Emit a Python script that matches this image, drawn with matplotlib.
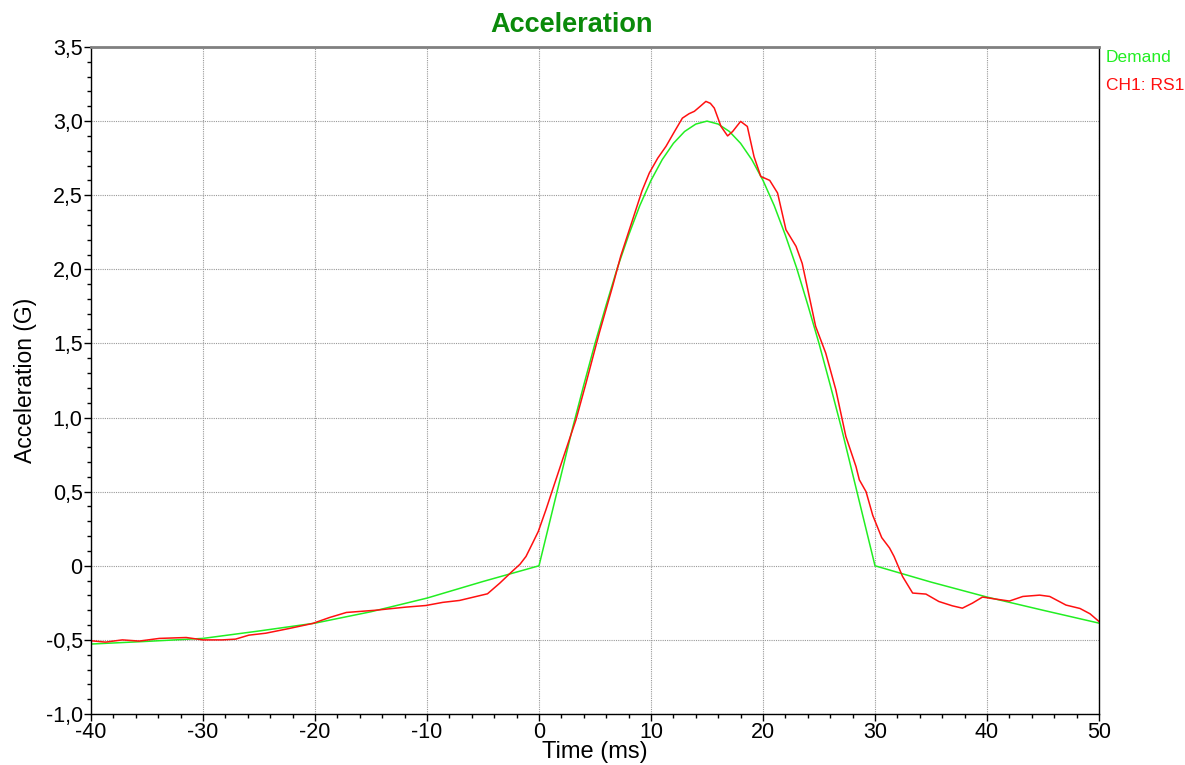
import numpy as np
import matplotlib
matplotlib.use("Agg")
from matplotlib import pyplot as plt
from matplotlib.ticker import MultipleLocator, FuncFormatter

plt.rcParams['font.family'] = ['Liberation Sans', 'DejaVu Sans']

# demand profile (half sine pulse with pre/post compensation)
demand_t = [-40, -35, -30, -25, -20, -15, -10, -5,
            0, 1, 2, 3, 4, 5, 6, 7, 8, 9, 10, 11, 12, 13, 14, 15,
            16, 17, 18, 19, 20, 21, 22, 23, 24, 25, 26, 27, 28, 29, 30,
            35, 40, 45, 50]
demand_g = [-0.528, -0.51, -0.49, -0.44, -0.387, -0.31, -0.218, -0.106,
            0.0, 0.31, 0.62, 0.93, 1.22, 1.50, 1.76, 2.01, 2.23, 2.43, 2.60, 2.74, 2.85, 2.93, 2.98, 3.00,
            2.98, 2.93, 2.85, 2.74, 2.60, 2.43, 2.23, 2.01, 1.76, 1.50, 1.22, 0.93, 0.62, 0.31, 0.0,
            -0.11, -0.211, -0.30, -0.387]

# measured channel
ch1_t = [-40.0, -38.7, -37.2, -35.7, -33.9, -31.5, -30.0, -28.3, -27.1, -25.9,
         -24.4, -22.3, -20.2, -18.7, -17.2, -14.6, -11.9, -10.1, -8.6, -7.1,
         -5.6, -4.6, -3.5, -2.4, -1.7, -1.16, -0.57, -0.06, 0.62, 1.21,
         2.1, 3.3, 4.2, 5.38, 6.57, 7.3, 8.36, 9.2, 9.85, 10.6, 11.34, 12.1, 12.8,
         13.4, 13.87, 14.4, 14.9, 15.3, 15.65, 16.25, 16.84, 17.29, 18.0, 18.6, 19.2, 19.8,
         20.6, 21.3, 22.05, 22.95, 23.5, 24.13, 24.7, 25.6, 26.5, 27.4,
         28.3, 28.6, 29.2, 29.8, 30.6, 31.3, 31.7, 32.46, 33.36, 34.55,
         35.7, 36.9, 37.8, 38.7, 39.6, 40.8, 42.0, 43.2, 44.7, 45.6,
         47.05, 48.3, 49.2, 50.0]
ch1_g = [-0.506, -0.515, -0.50, -0.508, -0.49, -0.484, -0.50, -0.50, -0.495, -0.468,
         -0.455, -0.423, -0.389, -0.349, -0.315, -0.30, -0.279, -0.268, -0.247, -0.234,
         -0.207, -0.189, -0.117, -0.038, 0.01, 0.063, 0.153, 0.232, 0.378, 0.513,
         0.715, 0.985, 1.233, 1.57, 1.885, 2.09, 2.335, 2.53, 2.65, 2.75, 2.83, 2.93, 3.02,
         3.05, 3.066, 3.10, 3.133, 3.12, 3.088, 2.964, 2.90, 2.93, 2.998, 2.964, 2.76, 2.627,
         2.60, 2.515, 2.267, 2.155, 2.04, 1.817, 1.615, 1.435, 1.188, 0.872,
         0.67, 0.58, 0.50, 0.34, 0.19, 0.12, 0.063, -0.072, -0.184, -0.191,
         -0.241, -0.27, -0.286, -0.252, -0.211, -0.225, -0.238, -0.207, -0.198, -0.207,
         -0.265, -0.288, -0.324, -0.376]

fig = plt.figure(figsize=(11.85, 7.65), dpi=100)
ax = fig.add_axes([91/1185, 1-714/765, (1099-91)/1185, (714-47)/765])

ax.plot(demand_t, demand_g, color='#22ee22', lw=1.1)
ax.plot(ch1_t, ch1_g, color='#ff1010', lw=1.1)

ax.set_xlim(-40, 50)
ax.set_ylim(-1.0, 3.5)
ax.xaxis.set_major_locator(MultipleLocator(10))
ax.xaxis.set_minor_locator(MultipleLocator(2))
ax.yaxis.set_major_locator(MultipleLocator(0.5))
ax.yaxis.set_minor_locator(MultipleLocator(0.1))

def yfmt(v, pos):
    if abs(v) < 1e-9:
        return "0"
    return ("%.1f" % v).replace('.', ',')

ax.yaxis.set_major_formatter(FuncFormatter(yfmt))
ax.xaxis.set_major_formatter(FuncFormatter(lambda v, p: "%d" % round(v)))

ax.tick_params(which='major', direction='out', length=5, width=1, labelsize=15.5, pad=1)
ax.tick_params(which='minor', direction='out', length=3, width=1)

ax.grid(True, which='major', color='#999999', linestyle=(0, (1, 1)), lw=0.8)

for s in ['left', 'bottom', 'right']:
    ax.spines[s].set_color('black')
    ax.spines[s].set_linewidth(1.0)
ax.spines['top'].set_color('#808080')
ax.spines['top'].set_linewidth(2.0)

ax.set_xlabel("Time (ms)", fontsize=17, labelpad=-2)
ax.set_ylabel("Acceleration (G)", fontsize=16.5, labelpad=6)

fig.text(571.5/1185, 1-25/765, "Acceleration", color='#0a8a0a', fontsize=19.5,
         fontweight='bold', ha='center', va='center')

fig.text(1106/1185, 1-57/765, "Demand", color='#22ee22', fontsize=12.5, ha='left', va='center')
fig.text(1106/1185, 1-85/765, "CH1: RS1", color='#ff1010', fontsize=12.5, ha='left', va='center')

fig.savefig("out.png", dpi=100)
